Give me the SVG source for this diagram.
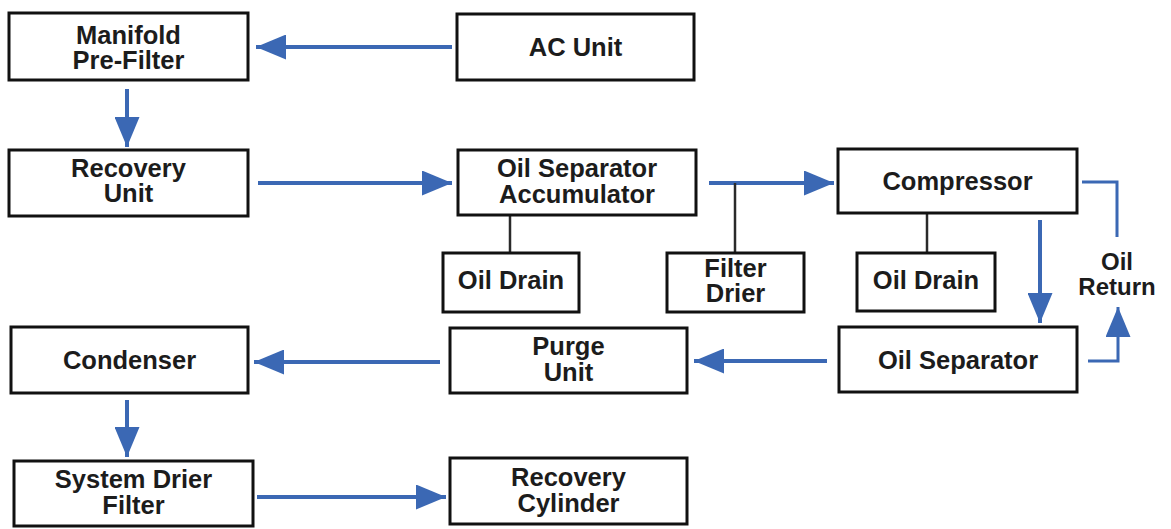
<svg xmlns="http://www.w3.org/2000/svg" width="1171" height="529" viewBox="0 0 1171 529">
<defs>
<style>
.box{fill:#fff;stroke:#111;stroke-width:3}
.t{font-family:"Liberation Sans",Arial,sans-serif;font-weight:bold;font-size:25.5px;fill:#1c1c1c;text-anchor:middle}
.flow{stroke:#3b68b4;stroke-width:4;fill:none}
.ret{stroke:#3b68b4;stroke-width:3;fill:none}
.tie{stroke:#2a2a2a;stroke-width:2.5;fill:none}
</style>
<marker id="ah" markerUnits="userSpaceOnUse" markerWidth="31" markerHeight="25" refX="30" refY="12.5" orient="auto" viewBox="0 0 31 25">
<path d="M0,0 L30,12.5 L0,25 z" fill="#3b68b4"/>
</marker>
</defs>
<rect width="1171" height="529" fill="#fff"/>
<g id="connectors">
<line class="flow" x1="452" y1="47" x2="256" y2="47" marker-end="url(#ah)"/>
<line class="flow" x1="127" y1="89" x2="127" y2="147" marker-end="url(#ah)"/>
<line class="flow" x1="258" y1="183" x2="452" y2="183" marker-end="url(#ah)"/>
<line class="tie" x1="510" y1="216" x2="510" y2="253"/>
<line class="flow" x1="709" y1="183" x2="834" y2="183" marker-end="url(#ah)"/>
<line class="tie" x1="735" y1="183" x2="735" y2="253"/>
<line class="tie" x1="927" y1="213" x2="927" y2="253"/>
<line class="flow" x1="1040" y1="220" x2="1040" y2="323" marker-end="url(#ah)"/>
<polyline class="ret" points="1082,182 1117,182 1117,237"/>
<polyline class="ret" points="1088,361 1118,361 1118,307" marker-end="url(#ah)"/>
<line class="flow" x1="827" y1="361" x2="694" y2="361" marker-end="url(#ah)"/>
<line class="flow" x1="440" y1="362" x2="254" y2="362" marker-end="url(#ah)"/>
<line class="flow" x1="127" y1="400" x2="127" y2="457" marker-end="url(#ah)"/>
<line class="flow" x1="257" y1="497" x2="446" y2="497" marker-end="url(#ah)"/>
</g>
<g id="manifold-prefilter">
<rect class="box" x="9" y="13" width="239" height="67"/>
<text class="t" x="128.5" y="44">Manifold</text>
<text class="t" x="128.5" y="69">Pre-Filter</text>
</g>
<g id="ac-unit">
<rect class="box" x="457" y="14" width="237" height="66"/>
<text class="t" x="575.5" y="56">AC Unit</text>
</g>
<g id="recovery-unit">
<rect class="box" x="9" y="150" width="239" height="66"/>
<text class="t" x="128.5" y="177">Recovery</text>
<text class="t" x="128.5" y="202">Unit</text>
</g>
<g id="oil-separator-accumulator">
<rect class="box" x="458" y="150" width="238" height="65"/>
<text class="t" x="577" y="177">Oil Separator</text>
<text class="t" x="577" y="203">Accumulator</text>
</g>
<g id="oil-drain-1">
<rect class="box" x="443" y="253" width="136" height="59"/>
<text class="t" x="511" y="289">Oil Drain</text>
</g>
<g id="filter-drier">
<rect class="box" x="667" y="253" width="137" height="59"/>
<text class="t" x="735.5" y="277">Filter</text>
<text class="t" x="735.5" y="302">Drier</text>
</g>
<g id="compressor">
<rect class="box" x="838" y="149" width="239" height="64"/>
<text class="t" x="957.5" y="190">Compressor</text>
</g>
<g id="oil-drain-2">
<rect class="box" x="857" y="253" width="138" height="58"/>
<text class="t" x="926" y="289">Oil Drain</text>
</g>
<g id="oil-return">
<text class="t" x="1117" y="270" style="font-size:24px">Oil</text>
<text class="t" x="1117" y="295" style="font-size:24px">Return</text>
</g>
<g id="oil-separator">
<rect class="box" x="839" y="327" width="238" height="65"/>
<text class="t" x="958" y="369">Oil Separator</text>
</g>
<g id="purge-unit">
<rect class="box" x="450" y="328" width="237" height="65"/>
<text class="t" x="568.5" y="355">Purge</text>
<text class="t" x="568.5" y="381">Unit</text>
</g>
<g id="condenser">
<rect class="box" x="11" y="327" width="237" height="66"/>
<text class="t" x="129.5" y="369">Condenser</text>
</g>
<g id="system-drier-filter">
<rect class="box" x="14" y="461" width="239" height="65"/>
<text class="t" x="133.5" y="488">System Drier</text>
<text class="t" x="133.5" y="514">Filter</text>
</g>
<g id="recovery-cylinder">
<rect class="box" x="450" y="458" width="237" height="66"/>
<text class="t" x="568.5" y="486">Recovery</text>
<text class="t" x="568.5" y="512">Cylinder</text>
</g>
</svg>
